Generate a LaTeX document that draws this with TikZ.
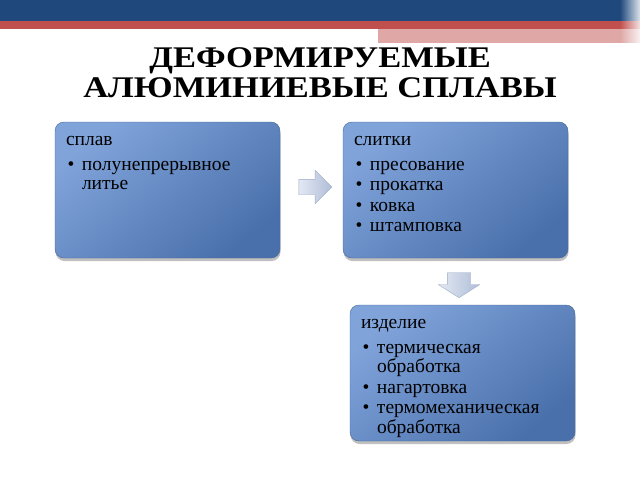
\documentclass[tikz,border=0pt]{standalone}
\usepackage{fontspec}
\setmainfont{Liberation Serif}
\newfontfamily\titlefamily[FakeStretch=1.15]{Liberation Serif}
\usetikzlibrary{shapes.arrows,shadows,fadings,calc}
\definecolor{barblue}{HTML}{1F497D}
\definecolor{barred}{HTML}{C0504D}
\definecolor{barpink}{HTML}{DFA8A7}
\definecolor{boxlight}{HTML}{80A3DA}
\definecolor{boxdark}{HTML}{4A70AB}
\definecolor{boxedge}{HTML}{46669A}
\definecolor{arrowlight}{HTML}{E3E9F3}
\definecolor{arrowdark}{HTML}{AFBDD8}
\definecolor{arrowedge}{HTML}{9DABC6}
\newcommand{\titlefont}{\titlefamily\bfseries\fontsize{30}{30.5}\selectfont}
\newcommand{\boxfont}{\fontsize{19.5}{19.5}\selectfont}
\newcommand{\bitem}{\par\vspace{1pt}\hangindent=16pt\hangafter=1\noindent
  \hbox to 16pt{\hskip1.5pt\textbullet\hfil}\ignorespaces}
\tikzfading[name=fade in right, left color=transparent!100, right color=transparent!0]
\tikzstyle{stage}=[draw=boxedge, rounded corners=9pt, minimum width=225pt,
    minimum height=136pt, inner sep=0pt, top color=boxlight, bottom color=boxdark,
    shading angle=40, drop shadow={shadow xshift=0.5pt, shadow yshift=-3pt,
    opacity=0.35, fill=black!70}]
\tikzstyle{stagetext}=[anchor=north west, inner sep=0pt, text width=210pt,
    align=left, font=\boxfont, text=black]
\tikzstyle{flow}=[single arrow, draw=arrowedge, left color=arrowlight,
    right color=arrowdark, inner xsep=0pt, single arrow head indent=0pt]

\begin{document}
\begin{tikzpicture}[x=1pt,y=-1pt]
  \path[fill=white, use as bounding box] (0,0) rectangle (640,480);
  % top bars
  \fill[barblue] (0,0) rectangle (640,21);
  \fill[barred] (0,21) rectangle (640,29);
  \fill[barpink] (378,29) rectangle (640,43);
  \fill[white, opacity=0.85, path fading=fade in right] (620,0) rectangle (640,43);

  \node[font=\titlefont, align=center, anchor=north, inner sep=0pt] at (320,47) (title)
    {ДЕФОРМИРУЕМЫЕ\\АЛЮМИНИЕВЫЕ СПЛАВЫ};

  \node at (167.5,190) (splav)[stage] {};
  \node at (455.5,190) (slitki)[stage] {};
  \node at (462.5,373) (izdelie)[stage] {};

  \node[stagetext] at ([shift={(11,9.4)}]splav.north west) (splavtext)
    {\noindent\strut сплав\par\vspace{4.5pt}
     \bitem полунепрерывное\newline литье\par};
  \node[stagetext] at ([shift={(11,9.4)}]slitki.north west) (slitkitext)
    {\noindent\strut слитки\par\vspace{4.5pt}
     \bitem пресование
     \bitem прокатка
     \bitem ковка
     \bitem штамповка\par};
  \node[stagetext] at ([shift={(11,9.4)}]izdelie.north west) (izdelietext)
    {\noindent\strut изделие\par\vspace{4.5pt}
     \bitem термическая\newline обработка
     \bitem нагартовка
     \bitem термомеханическая\newline обработка\par};

  \path (splav.east) -- (slitki.west) node[midway, flow, yshift=3pt,
    minimum height=33pt, inner ysep=7.5pt, single arrow head extend=9pt] (toslitki) {};
  \path (slitki.south) -- (izdelie.north) node[midway, flow, rotate=-90,
    minimum height=25pt, inner ysep=11.5pt, single arrow head extend=9pt,
    single arrow tip angle=115] (toizdelie) {};
\end{tikzpicture}
\end{document}
